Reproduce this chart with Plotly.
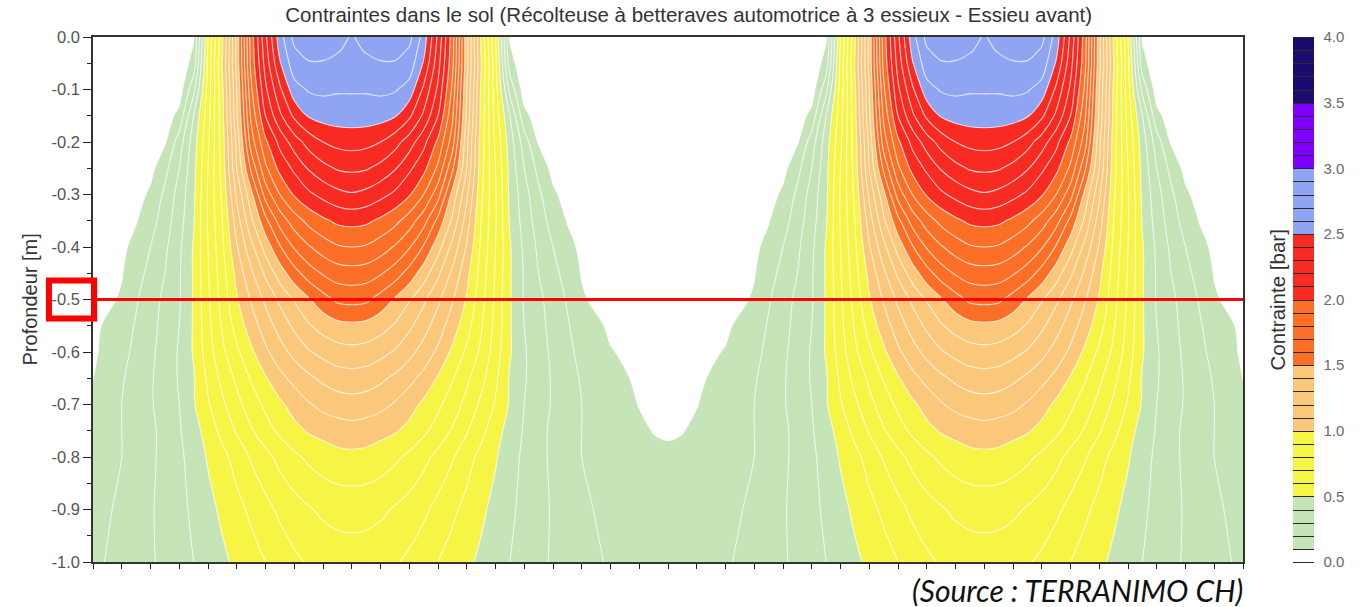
import plotly.graph_objects as go

# Horizontal position across the machine (m), right half; the left half is its mirror image
offset_m = [0.0, 0.05, 0.1, 0.2, 0.3, 0.35, 0.4, 0.45, 0.5, 0.55, 0.6, 0.65, 0.7, 0.75,
            0.8, 0.85, 0.9, 0.95, 1.0, 1.05, 1.1, 1.15, 1.2, 1.25, 1.3, 1.35, 1.4, 1.45,
            1.5, 1.55, 1.6, 1.65, 1.7, 1.75, 1.8, 1.85, 1.9, 2.0]

# Depth below the soil surface (m)
depth_m = [0.0, 0.025, 0.05, 0.1, 0.15, 0.2, 0.25, 0.3, 0.35, 0.4, 0.45, 0.5, 0.55,
           0.6, 0.65, 0.7, 0.75, 0.8, 0.9, 1.0]

# Vertical soil stress (bar), one row per depth, one value per offset
stress_bar = [
    [0.02, 0.02, 0.02, 0.02, 0.02, 0.02, 0.02, 0.02, 0.03, 0.09, 0.60, 0.99, 1.43, 1.95, 2.28, 2.56, 2.73, 2.77, 2.77, 2.74, 2.69, 2.74, 2.77, 2.77, 2.73, 2.56, 2.28, 1.95, 1.43, 0.99, 0.60, 0.09, 0.03, 0.02, 0.02, 0.02, 0.02, 0.02],
    [0.02, 0.02, 0.02, 0.02, 0.02, 0.02, 0.02, 0.02, 0.03, 0.11, 0.62, 0.99, 1.43, 1.94, 2.26, 2.53, 2.69, 2.74, 2.74, 2.71, 2.67, 2.71, 2.74, 2.74, 2.69, 2.53, 2.26, 1.94, 1.43, 0.99, 0.62, 0.11, 0.03, 0.02, 0.02, 0.02, 0.02, 0.02],
    [0.02, 0.02, 0.02, 0.02, 0.02, 0.02, 0.02, 0.02, 0.03, 0.14, 0.63, 1.01, 1.43, 1.93, 2.24, 2.49, 2.66, 2.69, 2.69, 2.67, 2.65, 2.67, 2.69, 2.69, 2.66, 2.49, 2.24, 1.93, 1.43, 1.01, 0.63, 0.14, 0.03, 0.02, 0.02, 0.02, 0.02, 0.02],
    [0.02, 0.02, 0.02, 0.02, 0.02, 0.02, 0.02, 0.03, 0.05, 0.27, 0.64, 0.98, 1.40, 1.88, 2.18, 2.38, 2.56, 2.61, 2.62, 2.61, 2.61, 2.61, 2.62, 2.61, 2.56, 2.38, 2.18, 1.88, 1.40, 0.98, 0.64, 0.27, 0.05, 0.03, 0.02, 0.02, 0.02, 0.02],
    [0.02, 0.02, 0.02, 0.02, 0.02, 0.02, 0.03, 0.05, 0.13, 0.40, 0.66, 0.97, 1.38, 1.82, 2.10, 2.28, 2.42, 2.51, 2.54, 2.55, 2.55, 2.55, 2.54, 2.51, 2.42, 2.28, 2.10, 1.82, 1.38, 0.97, 0.66, 0.40, 0.13, 0.05, 0.03, 0.02, 0.02, 0.02],
    [0.02, 0.02, 0.02, 0.02, 0.02, 0.03, 0.04, 0.09, 0.25, 0.45, 0.68, 0.95, 1.33, 1.75, 1.98, 2.13, 2.25, 2.34, 2.40, 2.43, 2.44, 2.43, 2.40, 2.34, 2.25, 2.13, 1.98, 1.75, 1.33, 0.95, 0.68, 0.45, 0.25, 0.09, 0.04, 0.03, 0.02, 0.02],
    [0.02, 0.02, 0.02, 0.02, 0.03, 0.04, 0.07, 0.17, 0.30, 0.47, 0.70, 0.94, 1.30, 1.62, 1.88, 2.03, 2.12, 2.21, 2.27, 2.31, 2.32, 2.31, 2.27, 2.21, 2.12, 2.03, 1.88, 1.62, 1.30, 0.94, 0.70, 0.47, 0.30, 0.17, 0.07, 0.04, 0.03, 0.02],
    [0.02, 0.02, 0.02, 0.02, 0.03, 0.06, 0.12, 0.22, 0.34, 0.48, 0.71, 0.92, 1.22, 1.47, 1.74, 1.90, 2.01, 2.08, 2.13, 2.17, 2.19, 2.17, 2.13, 2.08, 2.01, 1.90, 1.74, 1.47, 1.22, 0.92, 0.71, 0.48, 0.34, 0.22, 0.12, 0.06, 0.03, 0.02],
    [0.02, 0.02, 0.02, 0.03, 0.05, 0.095, 0.16, 0.25, 0.36, 0.49, 0.71, 0.90, 1.15, 1.38, 1.57, 1.74, 1.85, 1.93, 1.98, 2.02, 2.03, 2.02, 1.98, 1.93, 1.85, 1.74, 1.57, 1.38, 1.15, 0.90, 0.71, 0.49, 0.36, 0.25, 0.16, 0.095, 0.05, 0.03],
    [0.03, 0.03, 0.03, 0.03, 0.08, 0.13, 0.20, 0.28, 0.38, 0.51, 0.70, 0.88, 1.09, 1.27, 1.44, 1.59, 1.71, 1.79, 1.85, 1.89, 1.90, 1.89, 1.85, 1.79, 1.71, 1.59, 1.44, 1.27, 1.09, 0.88, 0.70, 0.51, 0.38, 0.28, 0.20, 0.13, 0.08, 0.03],
    [0.03, 0.03, 0.03, 0.05, 0.095, 0.16, 0.23, 0.30, 0.39, 0.51, 0.69, 0.86, 1.03, 1.18, 1.32, 1.45, 1.56, 1.65, 1.71, 1.75, 1.76, 1.75, 1.71, 1.65, 1.56, 1.45, 1.32, 1.18, 1.03, 0.86, 0.69, 0.51, 0.39, 0.30, 0.23, 0.16, 0.095, 0.04],
    [0.04, 0.04, 0.04, 0.06, 0.11, 0.19, 0.26, 0.32, 0.39, 0.51, 0.68, 0.84, 0.99, 1.11, 1.22, 1.32, 1.41, 1.49, 1.56, 1.62, 1.63, 1.62, 1.56, 1.49, 1.41, 1.32, 1.22, 1.11, 0.99, 0.84, 0.68, 0.51, 0.39, 0.32, 0.26, 0.19, 0.11, 0.06],
    [0.05, 0.055, 0.06, 0.085, 0.15, 0.21, 0.27, 0.33, 0.40, 0.51, 0.67, 0.81, 0.94, 1.05, 1.15, 1.24, 1.32, 1.39, 1.44, 1.47, 1.48, 1.47, 1.44, 1.39, 1.32, 1.24, 1.15, 1.05, 0.94, 0.81, 0.67, 0.51, 0.40, 0.33, 0.27, 0.21, 0.15, 0.08],
    [0.065, 0.07, 0.075, 0.105, 0.17, 0.225, 0.28, 0.34, 0.41, 0.51, 0.65, 0.78, 0.88, 0.98, 1.08, 1.16, 1.23, 1.29, 1.33, 1.36, 1.37, 1.36, 1.33, 1.29, 1.23, 1.16, 1.08, 0.98, 0.88, 0.78, 0.65, 0.51, 0.41, 0.34, 0.28, 0.225, 0.17, 0.085],
    [0.08, 0.085, 0.09, 0.12, 0.19, 0.24, 0.29, 0.34, 0.41, 0.49, 0.62, 0.73, 0.82, 0.91, 0.99, 1.07, 1.13, 1.18, 1.22, 1.25, 1.26, 1.25, 1.22, 1.18, 1.13, 1.07, 0.99, 0.91, 0.82, 0.73, 0.62, 0.49, 0.41, 0.34, 0.29, 0.24, 0.19, 0.099],
    [0.09, 0.094, 0.098, 0.135, 0.20, 0.245, 0.29, 0.34, 0.40, 0.49, 0.59, 0.68, 0.77, 0.85, 0.92, 0.98, 1.04, 1.09, 1.13, 1.15, 1.16, 1.15, 1.13, 1.09, 1.04, 0.98, 0.92, 0.85, 0.77, 0.68, 0.59, 0.49, 0.40, 0.34, 0.29, 0.245, 0.20, 0.115],
    [0.094, 0.098, 0.11, 0.14, 0.20, 0.24, 0.28, 0.33, 0.39, 0.46, 0.54, 0.63, 0.71, 0.79, 0.86, 0.92, 0.97, 1.01, 1.03, 1.05, 1.06, 1.05, 1.03, 1.01, 0.97, 0.92, 0.86, 0.79, 0.71, 0.63, 0.54, 0.46, 0.39, 0.33, 0.28, 0.24, 0.20, 0.13],
    [0.11, 0.114, 0.12, 0.15, 0.20, 0.24, 0.28, 0.33, 0.38, 0.44, 0.51, 0.57, 0.64, 0.71, 0.77, 0.83, 0.88, 0.92, 0.95, 0.97, 0.975, 0.97, 0.95, 0.92, 0.88, 0.83, 0.77, 0.71, 0.64, 0.57, 0.51, 0.44, 0.38, 0.33, 0.28, 0.24, 0.20, 0.14],
    [0.14, 0.145, 0.15, 0.17, 0.22, 0.255, 0.29, 0.33, 0.37, 0.42, 0.47, 0.52, 0.57, 0.62, 0.67, 0.72, 0.76, 0.79, 0.82, 0.835, 0.84, 0.835, 0.82, 0.79, 0.76, 0.72, 0.67, 0.62, 0.57, 0.52, 0.47, 0.42, 0.37, 0.33, 0.29, 0.255, 0.22, 0.16],
    [0.16, 0.165, 0.17, 0.19, 0.23, 0.26, 0.29, 0.32, 0.36, 0.40, 0.44, 0.48, 0.52, 0.56, 0.60, 0.64, 0.68, 0.71, 0.73, 0.745, 0.75, 0.745, 0.73, 0.71, 0.68, 0.64, 0.60, 0.56, 0.52, 0.48, 0.44, 0.40, 0.36, 0.32, 0.29, 0.26, 0.23, 0.18],
]

# Colour classes of the stress scale (upper edges of each class, bar)
band_edges = [0.1, 0.5, 1.0, 1.5, 2.0, 2.5, 3.0, 3.5]
band_colors = ["#ffffff", "#c5e4b8", "#f6f545", "#fbc87b", "#fb6f27", "#f72b22",
               "#8fa4f2", "#8000ff", "#1b0b6e"]
scale_ticks = [0.0, 0.5, 1.0, 1.5, 2.0, 2.5, 3.0, 3.5, 4.0]
depth_ticks = [0.0, -0.1, -0.2, -0.3, -0.4, -0.5, -0.6, -0.7, -0.8, -0.9, -1.0]
marked_depth = 0.5

LEVEL_START, LEVEL_END, LEVEL_STEP = 0.0, 4.0, 0.1
FONT = "Liberation Sans"

# Full cross-section: mirror the right half onto the left
x_full = [-v for v in reversed(offset_m[1:])] + offset_m
y_full = [-d for d in depth_m]
z_full = [list(reversed(row[1:])) + row for row in stress_bar]


def stepped_scale(to_frac):
    edges = [0.0] + [to_frac(e) for e in band_edges] + [1.0]
    scale = []
    for i, col in enumerate(band_colors):
        scale.append([edges[i], col])
        scale.append([edges[i + 1], col])
    return scale


# filled contours: plotly maps the colourscale onto [start - step/2, end + step/2]
n_levels = round((LEVEL_END - LEVEL_START) / LEVEL_STEP) + 1
fill_span = n_levels * LEVEL_STEP
fill_scale = stepped_scale(lambda v: (v - LEVEL_START + LEVEL_STEP / 2) / fill_span)
bar_scale = stepped_scale(lambda v: (v - LEVEL_START) / (LEVEL_END - LEVEL_START))

contour_levels = dict(start=LEVEL_START, end=LEVEL_END, size=LEVEL_STEP, showlines=True)

fig = go.Figure()

fig.add_trace(go.Contour(
    x=x_full, y=y_full, z=z_full,
    autocontour=False,
    contours=dict(contour_levels, coloring="fill"),
    colorscale=fill_scale,
    line=dict(color="rgba(255,255,255,0.75)", width=1.1, smoothing=1.0),
    showscale=False,
    hoverinfo="skip",
))

# same field again, invisible, only to carry the stepped colour bar with dark class lines
fig.add_trace(go.Contour(
    x=x_full, y=y_full, z=z_full,
    zmin=LEVEL_START, zmax=LEVEL_END,
    autocontour=False,
    contours=dict(contour_levels, coloring="heatmap"),
    colorscale=bar_scale,
    line=dict(color="#2b2b2b", width=1),
    opacity=0,
    hoverinfo="skip",
    showscale=True,
    colorbar=dict(
        thickness=21, thicknessmode="pixels",
        len=1, lenmode="fraction", y=0.5, yanchor="middle",
        x=1.0435, xanchor="left", xpad=0, ypad=0,
        outlinewidth=0,
        tickmode="array", tickvals=scale_ticks,
        ticktext=[f"{t:.1f}" for t in scale_ticks],
        ticks="outside", ticklen=7, tickcolor="rgba(0,0,0,0)",
        tickfont=dict(family=FONT, size=15, color="#6a6a6a"),
    ),
))

fig.update_layout(
    width=1363, height=607,
    margin=dict(l=93, r=120, t=37, b=45),
    paper_bgcolor="white", plot_bgcolor="white",
    showlegend=False,
    title=dict(
        text="Contraintes dans le sol (Récolteuse à betteraves automotrice à 3 essieux - Essieu avant)",
        x=0.518, xref="paper", xanchor="center",
        y=1 - 15 / 607, yref="container", yanchor="middle",
        font=dict(family=FONT, size=20.5, color="#333333"),
    ),
    xaxis=dict(
        range=[-2, 2], tickmode="linear", tick0=0, dtick=0.1,
        ticks="outside", ticklen=5, tickwidth=1, tickcolor="#222222",
        showticklabels=False, showgrid=False, zeroline=False,
        showline=True, linecolor="#333333", linewidth=1.5, mirror=True,
    ),
    yaxis=dict(
        range=[-1, 0], tickmode="array", tickvals=depth_ticks,
        ticktext=[f"{abs(t):.1f}" if t == 0 else f"{t:.1f}" for t in depth_ticks],
        ticks="outside", ticklen=8, tickwidth=1, tickcolor="#222222",
        minor=dict(tickmode="linear", tick0=0, dtick=0.05, ticks="outside",
                   ticklen=4, tickcolor="#222222", showgrid=False),
        tickfont=dict(family=FONT, size=16.5, color="#555555"),
        showgrid=False, zeroline=False,
        showline=True, linecolor="#333333", linewidth=1.5, mirror=True,
    ),
)

# highlighted depth: box round its tick label and a line across the section
mark_y = 1 - marked_depth
fig.add_shape(type="line", xref="paper", yref="paper",
              x0=0.001, x1=1.0, y0=mark_y, y1=mark_y,
              line=dict(color="#ff0000", width=3))
fig.add_shape(type="rect", xref="paper", yref="paper",
              x0=-0.0383, x1=0.001, y0=mark_y - 0.036, y1=mark_y + 0.036,
              line=dict(color="#ff0000", width=6))

fig.add_annotation(text="Profondeur [m]", textangle=-90,
                   xref="paper", yref="paper", x=-0.0548, y=0.5,
                   xanchor="center", yanchor="middle", showarrow=False,
                   font=dict(family=FONT, size=20, color="#333333"))
fig.add_annotation(text="Contrainte [bar]", textangle=-90,
                   xref="paper", yref="paper", x=1.0304, y=0.5,
                   xanchor="center", yanchor="middle", showarrow=False,
                   font=dict(family=FONT, size=20.5, color="#333333"))
fig.add_annotation(text="<i>(Source : TERRANIMO CH)</i>",
                   xref="paper", yref="paper", x=1.0017, y=-0.0533,
                   xanchor="right", yanchor="middle", showarrow=False,
                   font=dict(family="Lato", size=30, color="#111111"))

fig.write_html("out.html")
